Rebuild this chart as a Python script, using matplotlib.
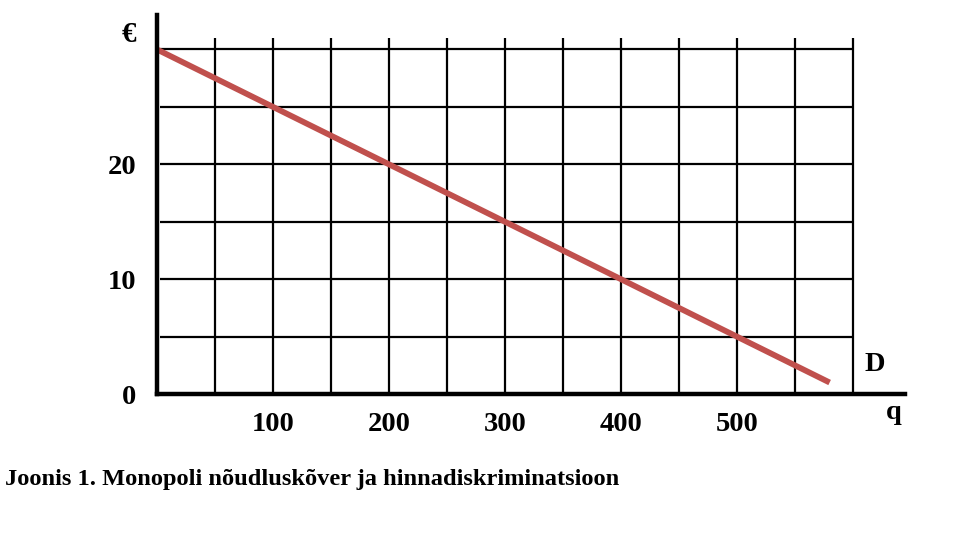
import numpy as np
import matplotlib
matplotlib.use("Agg")
import matplotlib.pyplot as plt

# demand curve end points (q, price)
demand_q = [0, 580]
demand_p = [30, 1]

x_ticks = [100, 200, 300, 400, 500]
y_ticks = [0, 10, 20]

grid_x = [50, 100, 150, 200, 250, 300, 350, 400, 450, 500, 550, 600]
grid_y = [5, 10, 15, 20, 25, 30]

caption = "Joonis 1. Monopoli nõudluskõver ja hinnadiskriminatsioon"

plt.rcParams['font.family'] = 'Liberation Serif'
plt.rcParams['font.weight'] = 'bold'

W, H = 962, 544
fig = plt.figure(figsize=(W / 100, H / 100), dpi=100)
ax = fig.add_axes([157 / W, (H - 394) / H, (905 - 157) / W, (394 - 15) / H])
ax.set_xlim(0, 645)
ax.set_ylim(0, 33)

# grid drawn by hand so lines stop where the original stops
ax.vlines(grid_x, 0, 31, color='black', linewidth=1.6, zorder=1)
ax.hlines(grid_y, 2.5, 600, color='black', linewidth=1.6, zorder=1)

ax.plot(demand_q, demand_p, color='#C0504D', linewidth=4.2,
        solid_capstyle='butt', zorder=3)

for side in ['top', 'right']:
    ax.spines[side].set_visible(False)
for side in ['left', 'bottom']:
    ax.spines[side].set_linewidth(3.2)
    ax.spines[side].set_zorder(4)

ax.set_xticks(x_ticks)
ax.set_xticklabels([str(v) for v in x_ticks], fontsize=20.5, fontweight='bold')
ax.set_yticks(y_ticks)
ax.set_yticklabels([str(v) for v in y_ticks], fontsize=20.5, fontweight='bold')
ax.tick_params(axis='x', length=0, pad=13)
ax.tick_params(axis='y', length=0, pad=15)

ax.text(-24, 31.3, "€", fontsize=21, fontweight='bold', ha='center', va='center')
ax.text(635, -1.6, "q", fontsize=20.5, fontweight='bold', ha='center', va='center')
ax.text(619, 2.6, "D", fontsize=20.5, fontweight='bold', ha='center', va='center')

fig.text(5 / W, 1 - 480 / H, caption, fontsize=17.6, fontweight='bold',
         ha='left', va='center')

fig.savefig("out.png", dpi=100)
